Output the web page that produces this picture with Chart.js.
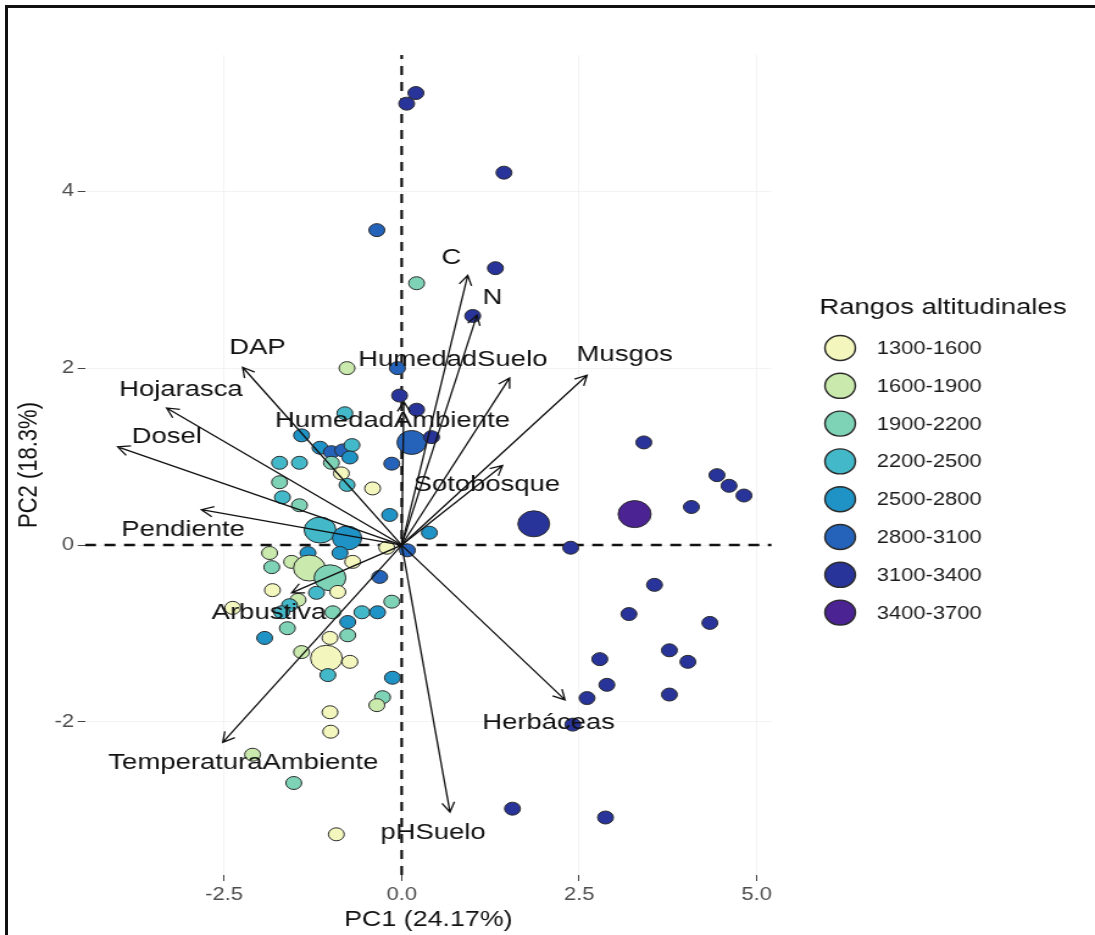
<!DOCTYPE html>
<html>
<head>
<meta charset="utf-8">
<script src="https://cdn.jsdelivr.net/npm/chart.js@4.4.1/dist/chart.umd.min.js"></script>
<style>
  html, body { margin: 0; padding: 0; background: #fff; overflow: hidden; }
  #stage { position: absolute; left: 0; top: 0; width: 898px; height: 935px; transform: scaleX(1.2194); transform-origin: 0 0; }
  #frame { position: absolute; left: 5px; top: 5px; width: 1200px; height: 1000px; border-left: 3px solid #111; border-top: 3px solid #111; pointer-events: none; }
</style>
</head>
<body>
<div id="stage"><canvas id="pca" width="898" height="935"></canvas></div>
<div id="frame"></div>
<script>
// Individuals (PC1, PC2 scores), altitude group index and point radius
const pcX = [0.20, 0.07, 1.44, -0.35, 1.32, 0.21, 1.00, -0.06, -0.03, 0.21, 0.14, 0.42, -0.14, -0.17, 0.39, 0.08,
  2.38, 1.86, 3.28, 3.41, 4.08, 4.44, 4.61, 4.82, 3.56, 3.20, 4.34, 2.79, 3.77, 4.03, 2.89, 2.61, 3.77, 2.41, 1.56, 2.87,
  -0.77, -1.41, -1.15, -0.99, -0.83, -0.70, -0.73, -0.99, -1.72, -1.44, -0.85, -1.72, -0.77, -0.41, -1.68, -1.44, -0.80,
  -1.15, -0.77, -0.21, -1.86, -1.32, -0.87, -1.83, -1.55, -1.30, -1.01, -0.69, -0.31, -1.82, -1.20, -0.90, -1.46, -0.14,
  -1.58, -1.69, -0.97, -0.56, -0.34, -0.76, -2.38, -1.61, -1.93, -1.01, -0.76, -1.41, -1.06, -0.73, -1.04, -0.13, -0.27,
  -0.35, -1.01, -1.00, -2.10, -1.52, -0.92];
const pcY = [5.11, 4.99, 4.21, 3.56, 3.13, 2.96, 2.59, 2.00, 1.69, 1.53, 1.16, 1.22, 0.92, 0.34, 0.14, -0.06,
  -0.03, 0.24, 0.35, 1.16, 0.43, 0.79, 0.67, 0.56, -0.45, -0.78, -0.88, -1.29, -1.19, -1.32, -1.58, -1.73, -1.69, -2.03, -2.98, -3.08,
  2.00, 1.24, 1.10, 1.05, 1.07, 1.13, 0.99, 0.93, 0.93, 0.93, 0.81, 0.71, 0.68, 0.64, 0.54, 0.45, 1.49,
  0.17, 0.08, -0.03, -0.09, -0.09, -0.09, -0.25, -0.19, -0.26, -0.37, -0.19, -0.36, -0.51, -0.54, -0.53, -0.62, -0.64,
  -0.68, -0.76, -0.76, -0.76, -0.76, -0.87, -0.71, -0.94, -1.05, -1.05, -1.02, -1.21, -1.28, -1.32, -1.47, -1.50, -1.72,
  -1.81, -1.89, -2.11, -2.37, -2.69, -3.27];
const altGroup = [6, 6, 6, 5, 6, 2, 6, 5, 6, 6, 5, 6, 5, 4, 4, 5,
  6, 6, 7, 6, 6, 6, 6, 6, 6, 6, 6, 6, 6, 6, 6, 6, 6, 6, 6, 6,
  1, 4, 4, 5, 5, 3, 4, 2, 3, 3, 0, 2, 3, 0, 3, 2, 3,
  3, 4, 0, 1, 4, 4, 2, 1, 1, 2, 0, 5, 0, 3, 0, 1, 2,
  3, 3, 2, 3, 4, 4, 0, 2, 4, 0, 2, 1, 0, 0, 3, 4, 2,
  1, 0, 0, 1, 2, 0];
const pointSize = [6.5, 6.5, 6.5, 6.5, 6.5, 6.5, 6.5, 6.5, 6.5, 6.5, 12, 6.5, 6.5, 6.5, 6.5, 6.5,
  6.5, 13, 13.5, 6.5, 6.5, 6.5, 6.5, 6.5, 6.5, 6.5, 6.5, 6.5, 6.5, 6.5, 6.5, 6.5, 6.5, 6.5, 6.5, 6.5,
  6.5, 6.5, 6.5, 6.5, 6.5, 6.5, 6.5, 6.5, 6.5, 6.5, 6.5, 6.5, 6.5, 6.5, 6.5, 6.5, 6.5,
  13, 12, 6.5, 6.5, 6.5, 6.5, 6.5, 6.5, 13, 13, 6.5, 6.5, 6.5, 6.5, 6.5, 6.5, 6.5,
  6.5, 6.5, 6.5, 6.5, 6.5, 6.5, 6.5, 6.5, 6.5, 6.5, 6.5, 6.5, 13, 6.5, 6.5, 6.5, 6.5,
  6.5, 6.5, 6.5, 6.5, 6.5, 6.5];

// Altitude ranges (legend)
const groupLabels = ['1300-1600', '1600-1900', '1900-2200', '2200-2500', '2500-2800', '2800-3100', '3100-3400', '3400-3700'];
const groupColors = ['#f3f6bd', '#c9e9ad', '#7ed3b6', '#43b8c8', '#1f93c6', '#2463b9', '#28349a', '#4b2393'];

// Variable loadings (arrow tips) and label positions
const varNames = ['C', 'N', 'HumedadSuelo', 'Musgos', 'HumedadAmbiente', 'Sotobosque', 'DAP', 'Hojarasca',
  'Dosel', 'Pendiente', 'Arbustiva', 'TemperaturaAmbiente', 'pHSuelo', 'Herbáceas'];
const arrowX = [0.93, 1.06, 1.52, 2.61, 0.03, 1.42, -2.24, -3.31, -4.00, -2.82, -1.55, -2.52, 0.68, 2.30];
const arrowY = [3.05, 2.60, 1.89, 1.92, 1.62, 0.90, 2.01, 1.55, 1.11, 0.40, -0.54, -2.23, -3.02, -1.75];
const labelX = [0.70, 1.28, 0.72, 3.14, -0.13, 1.20, -2.03, -3.11, -3.31, -3.08, -1.87, -2.23, 0.44, 2.07];
const labelY = [3.25, 2.79, 2.09, 2.15, 1.41, 0.68, 2.23, 1.75, 1.22, 0.17, -0.77, -2.46, -3.25, -2.01];

const xLimits = [-4.46, 5.21];
const yLimits = [-3.73, 5.54];
const xTicks = [-2.5, 0, 2.5, 5];
const yTicks = [-2, 0, 2, 4];

const FONT = '"Liberation Sans", Arial, Helvetica, sans-serif';

const points = pcX.map((x, i) => ({ x, y: pcY[i] }));

const biplotPlugin = {
  id: 'biplot',
  afterDatasetsDraw(chart) {
    const ctx = chart.ctx;
    const sx = chart.scales.x, sy = chart.scales.y;
    const ox = sx.getPixelForValue(0), oy = sy.getPixelForValue(0);
    ctx.save();
    ctx.strokeStyle = '#111';
    ctx.lineWidth = 1.3;
    varNames.forEach((name, i) => {
      const tx = sx.getPixelForValue(arrowX[i]);
      const ty = sy.getPixelForValue(arrowY[i]);
      const ang = Math.atan2(ty - oy, tx - ox);
      const head = 11, spread = Math.PI / 6.5;
      ctx.beginPath();
      ctx.moveTo(ox, oy);
      ctx.lineTo(tx, ty);
      ctx.moveTo(tx - head * Math.cos(ang - spread), ty - head * Math.sin(ang - spread));
      ctx.lineTo(tx, ty);
      ctx.lineTo(tx - head * Math.cos(ang + spread), ty - head * Math.sin(ang + spread));
      ctx.stroke();
    });
    ctx.fillStyle = '#111';
    ctx.font = '22.5px ' + FONT;
    ctx.textAlign = 'center';
    ctx.textBaseline = 'middle';
    varNames.forEach((name, i) => {
      ctx.fillText(name, sx.getPixelForValue(labelX[i]), sy.getPixelForValue(labelY[i]));
    });
    ctx.restore();
  },
  afterDraw(chart) {
    // legend for altitude ranges
    const ctx = chart.ctx;
    ctx.save();
    ctx.fillStyle = '#111';
    ctx.textAlign = 'left';
    ctx.textBaseline = 'middle';
    ctx.font = '22.5px ' + FONT;
    ctx.fillText('Rangos altitudinales', 672, 308);
    ctx.font = '18px ' + FONT;
    groupLabels.forEach((lab, i) => {
      const cy = 348 + i * 37.8;
      ctx.beginPath();
      ctx.arc(689, cy, 12.5, 0, Math.PI * 2);
      ctx.fillStyle = groupColors[i];
      ctx.fill();
      ctx.lineWidth = 1.4;
      ctx.strokeStyle = '#2a2a2a';
      ctx.stroke();
      ctx.fillStyle = '#1a1a1a';
      ctx.fillText(lab, 719, cy + 1);
    });
    ctx.restore();
  }
};

new Chart(document.getElementById('pca'), {
  type: 'scatter',
  data: {
    datasets: [
      {
        data: points,
        backgroundColor: altGroup.map(g => groupColors[g]),
        borderColor: '#2b2b2b',
        borderWidth: 1,
        pointRadius: pointSize,
        pointHoverRadius: pointSize,
        order: 1
      },
      {
        type: 'line',
        data: [{ x: xLimits[0], y: 0 }, { x: xLimits[1], y: 0 }],
        borderColor: '#111',
        borderWidth: 2.4,
        borderDash: [9, 7],
        pointRadius: 0,
        order: 5
      },
      {
        type: 'line',
        data: [{ x: 0, y: yLimits[0] }, { x: 0, y: yLimits[1] }],
        borderColor: '#111',
        borderWidth: 2.2,
        borderDash: [9, 7],
        pointRadius: 0,
        order: 5
      }
    ]
  },
  options: {
    responsive: false,
    animation: false,
    events: [],
    layout: { padding: { top: 55, right: 265.2, bottom: 0, left: 0 } },
    plugins: { legend: { display: false }, tooltip: { enabled: false } },
    scales: {
      x: {
        type: 'linear',
        min: xLimits[0],
        max: xLimits[1],
        afterBuildTicks: s => { s.ticks = xTicks.map(v => ({ value: v })); },
        afterFit: s => { s.height = 60; },
        ticks: { color: '#4d4d4d', font: { family: FONT, size: 18 }, padding: 3, callback: v => v.toFixed(1) },
        grid: { color: '#f3f3f3', tickColor: '#444', tickLength: 6 },
        border: { display: false },
        title: { display: true, text: 'PC1 (24.17%)', color: '#111', font: { family: FONT, size: 22 }, padding: { top: 0, bottom: 2 } }
      },
      y: {
        type: 'linear',
        min: yLimits[0],
        max: yLimits[1],
        afterBuildTicks: s => { s.ticks = yTicks.map(v => ({ value: v })); },
        afterFit: s => { s.width = 69.7; },
        ticks: { color: '#4d4d4d', font: { family: FONT, size: 18 }, padding: 3, callback: v => String(v) },
        grid: { color: '#f3f3f3', tickColor: '#444', tickLength: 6 },
        border: { display: false },
        title: { display: true, text: 'PC2 (18.3%)', color: '#111', font: { family: FONT, size: 22 }, padding: { top: 11, bottom: 0 } }
      }
    }
  },
  plugins: [biplotPlugin]
});
</script>
</body>
</html>
